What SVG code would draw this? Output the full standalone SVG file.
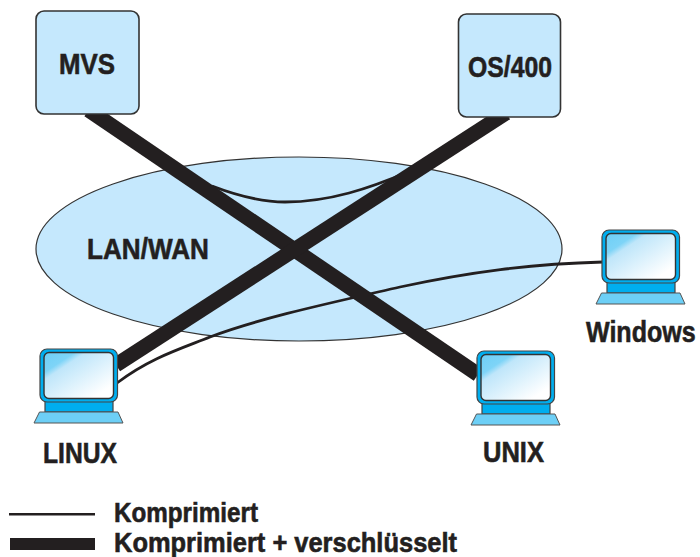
<svg xmlns="http://www.w3.org/2000/svg" width="700" height="557" viewBox="0 0 700 557">
<style>
text{font-family:"Liberation Sans Narrow","Liberation Sans",Arial,sans-serif;font-weight:700;fill:#231f20;stroke:#231f20;stroke-width:.6;font-size:30px}
.leg{font-size:28px}
.host{fill:#c5e8fd;stroke:#333;stroke-width:1.6}
.thick{stroke:#231f20;stroke-width:15;fill:none}
.thin{stroke:#231f20;stroke-width:2.800;fill:none}
.case{fill:#00aeef;stroke:#444;stroke-width:1.2}
.base{fill:#6dcff6;stroke:#555;stroke-width:1}
.screen{fill:url(#g);stroke:#333;stroke-width:1.4}
</style>
<defs>
<linearGradient id="g" x1="0" y1="0" x2="1" y2="1">
<stop offset="0" stop-color="#6dcff6"/><stop offset="0.22" stop-color="#7ed4f7"/><stop offset="0.3" stop-color="#bfe6fa"/><stop offset="0.85" stop-color="#fff"/>
</linearGradient>
<g id="pc">
<rect class="case" x="45" y="401" width="68" height="11"/>
<path class="base" d="M39.500 412H118L123 423H34Z"/>
<rect class="case" x="40" y="349" width="77.500" height="53" rx="7"/>
<rect class="screen" x="44" y="352.500" width="69.500" height="46" rx="5"/>
</g>
</defs>
<ellipse id="lan" cx="299" cy="249" rx="263" ry="92" fill="#c5e8fd" stroke="#333" stroke-width="1.2"/>
<text x="87" y="259" textLength="122" lengthAdjust="spacingAndGlyphs">LAN/WAN</text>
<g id="connectors">
<path class="thin" d="M212 186C238 196 262 202 285 202C330 202 370 188 408 172"/>
<path class="thin" d="M117 383C150 358 180 349 210 337C260 318 330 303 400 287C470 272 530 264 603 262"/>
<path class="thick" d="M88.600 110L478 374.500"/>
<path class="thick" d="M506 113L116 365"/>
</g>
<g id="mvs"><rect class="host" x="36" y="11" width="103" height="103" rx="8"/><text x="59" y="74" textLength="56" lengthAdjust="spacingAndGlyphs">MVS</text></g>
<g id="os400"><rect class="host" x="458.500" y="14" width="102" height="103" rx="8"/><text x="468" y="77" textLength="84" lengthAdjust="spacingAndGlyphs">OS/400</text></g>
<g id="linux"><use href="#pc"/><text x="43" y="463" textLength="74" lengthAdjust="spacingAndGlyphs">LINUX</text></g>
<g id="unix"><use href="#pc" x="437" y="2"/><text x="483" y="462" textLength="61" lengthAdjust="spacingAndGlyphs">UNIX</text></g>
<g id="windows"><use href="#pc" x="562" y="-119"/><text transform="translate(586 342) scale(.835 1)">Windows</text></g>
<g id="legend">
<rect x="9" y="513" width="86" height="2.500" fill="#231f20"/>
<rect x="10" y="538" width="85" height="12" fill="#231f20"/>
<text class="leg" x="114" y="522" textLength="144" lengthAdjust="spacingAndGlyphs">Komprimiert</text>
<text class="leg" x="114" y="552" textLength="343" lengthAdjust="spacingAndGlyphs">Komprimiert + verschlüsselt</text>
</g>
</svg>
